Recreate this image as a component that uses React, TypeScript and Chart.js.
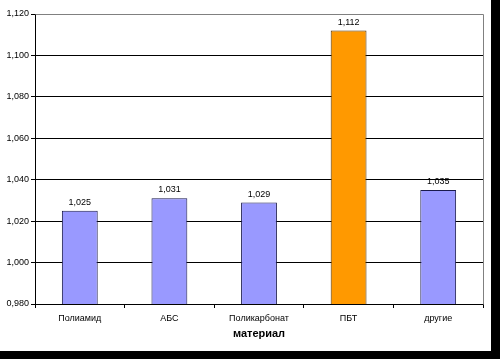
import React, { useEffect, useRef } from "react";
import { Chart, registerables } from "chart.js";

Chart.register(...registerables);

const categories = ["Полиамид", "АБС", "Поликарбонат", "ПБТ", "другие"];
const values = [1.025, 1.031, 1.029, 1.112, 1.035];
const barColors = ["#9999FF", "#9999FF", "#9999FF", "#FF9900", "#9999FF"];
const yMin = 0.98;
const yMax = 1.12;
const yStep = 0.02;
const xTitle = "материал";

const fmt = (v: number) => v.toFixed(3).replace(".", ",");

const FONT = "'Liberation Sans', Arial, sans-serif";

export default function App() {
  const ref = useRef<HTMLCanvasElement | null>(null);
  useEffect(() => {
    if (!ref.current) return;
    const labelsPlugin = {
      id: "valueLabels",
      afterDatasetsDraw(chart: any) {
        const ctx = chart.ctx;
        const meta = chart.getDatasetMeta(0);
        ctx.save();
        ctx.font = `9px ${FONT}`;
        ctx.fillStyle = "#000";
        ctx.textAlign = "center";
        ctx.textBaseline = "alphabetic";
        meta.data.forEach((bar: any, i: number) => {
          ctx.fillText(fmt(values[i]), bar.x, bar.y - 6);
        });
        ctx.restore();
      },
    };
    const borderPlugin = {
      id: "areaBorder",
      beforeDatasetsDraw(chart: any) {
        const { ctx, chartArea } = chart;
        ctx.save();
        ctx.strokeStyle = "#808080";
        ctx.lineWidth = 1;
        ctx.beginPath();
        ctx.moveTo(Math.round(chartArea.left) + 0.5, Math.round(chartArea.top) + 0.5);
        ctx.lineTo(Math.round(chartArea.right) + 0.5, Math.round(chartArea.top) + 0.5);
        ctx.lineTo(Math.round(chartArea.right) + 0.5, Math.round(chartArea.bottom) + 0.5);
        ctx.stroke();
        ctx.restore();
      },
    };
    const chart = new Chart(ref.current, {
      type: "bar",
      data: {
        labels: categories,
        datasets: [
          {
            data: values,
            backgroundColor: barColors,
            borderColor: ["#1a1a4d", "#1a1a4d", "#1a1a4d", "#4d2e00", "#1a1a4d"],
            borderWidth: 1,
            barPercentage: 0.4,
            categoryPercentage: 1,
          },
        ],
      },
      plugins: [borderPlugin, labelsPlugin],
      options: {
        animation: false,
        responsive: false,
        maintainAspectRatio: false,
        layout: { padding: { top: 14, right: 8, left: 0, bottom: 10 } },
        plugins: {
          legend: { display: false },
          tooltip: { enabled: false },
        },
        scales: {
          x: {
            offset: true,
            afterFit: (s: any) => {
              s.height = 37;
            },
            grid: {
              display: true,
              drawOnChartArea: false,
              offset: true,
              tickLength: 4,
              color: "#000",
            },
            border: { color: "#000", width: 1 },
            ticks: {
              color: "#000",
              font: { family: FONT, size: 9 },
              padding: 5,
              maxRotation: 0,
            },
            title: {
              display: true,
              text: xTitle,
              color: "#000",
              font: { family: FONT, size: 11, weight: "bold" },
              padding: { top: 4, bottom: 0 },
            },
          },
          y: {
            min: yMin,
            max: yMax,
            afterFit: (s: any) => {
              s.width = 35;
            },
            afterBuildTicks: (s: any) => {
              const t = [];
              for (let i = 0; i <= Math.round((yMax - yMin) / yStep); i++) {
                t.push({ value: +(yMin + i * yStep).toFixed(3) });
              }
              s.ticks = t;
            },
            grid: {
              color: (c: any) =>
                c.tick && Math.abs(c.tick.value - yMax) < 1e-6 ? "#808080" : "#000",
              tickLength: 4,
              tickColor: "#000",
            },
            border: { color: "#000", width: 1 },
            ticks: {
              color: "#000",
              font: { family: FONT, size: 9 },
              padding: 2,
              callback: (v: any) => fmt(Number(v)),
            },
          },
        },
      },
    });
    return () => chart.destroy();
  }, []);
  return (
    <div
      style={{
        position: "fixed",
        left: 0,
        top: 0,
        width: 500,
        height: 359,
        background: "#000",
      }}
    >
      <div style={{ width: 491, height: 351, background: "#fff" }}>
        <canvas
          ref={ref}
          width={491}
          height={351}
          style={{ display: "block", width: 491, height: 351 }}
        />
      </div>
    </div>
  );
}
